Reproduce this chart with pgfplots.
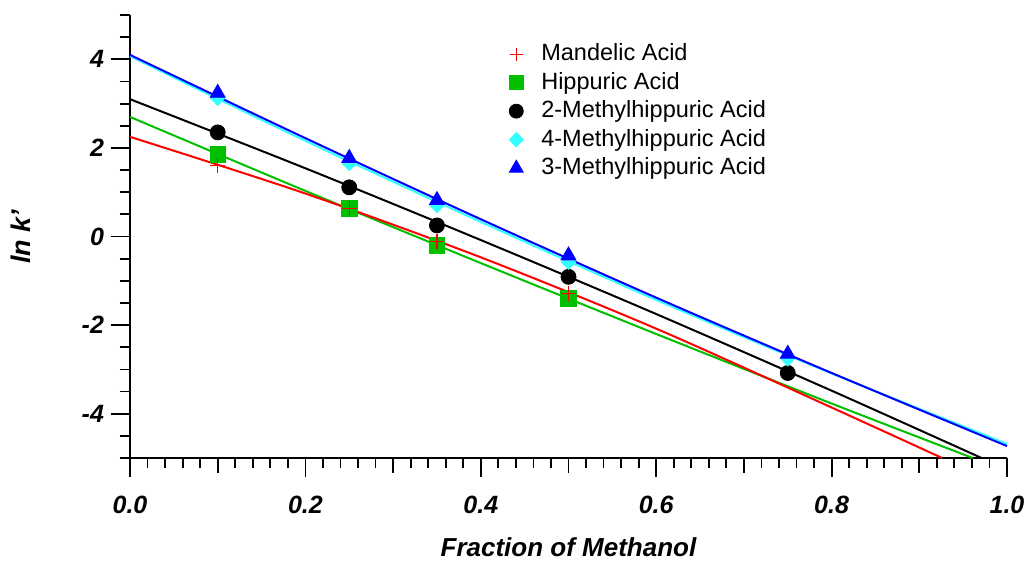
\documentclass[border=0pt]{standalone}
\usepackage{fontspec}
\setmainfont{Liberation Sans}
\usepackage{pgfplots}
\pgfplotsset{compat=1.18}

\definecolor{mred}{RGB}{255,0,0}
\definecolor{mgreen}{RGB}{0,192,0}
\definecolor{mcyan}{RGB}{51,255,255}
\definecolor{mblue}{RGB}{0,0,255}

\begin{document}
\begin{tikzpicture}
\useasboundingbox (-65pt,-52.5pt) rectangle (450.5pt,229pt);
\begin{axis}[
    at={(0,0)}, anchor=south west,
    scale only axis, width=438.5pt, height=221.5pt,
    xmin=0, xmax=1, ymin=-5, ymax=5,
    axis lines*=left,
    axis line style={line width=1pt},
    tick align=outside,
    every tick/.style={black, line width=0.9pt},
    major tick length=9.5pt, minor tick length=5pt,
    xtick={0,0.2,0.4,0.6,0.8,1.0},
    minor xtick={0.02,0.04,0.06,0.08,0.12,0.14,0.16,0.18,0.22,0.24,0.26,0.28,0.32,0.34,0.36,0.38,0.42,0.44,0.46,0.48,0.52,0.54,0.56,0.58,0.62,0.64,0.66,0.68,0.72,0.74,0.76,0.78,0.82,0.84,0.86,0.88,0.92,0.94,0.96,0.98},
    extra x ticks={0.1,0.3,0.5,0.7,0.9},
    extra x tick labels={},
    extra x tick style={major tick length=7.5pt},
    ytick={-4,-2,0,2,4},
    minor ytick={-5,-4.5,-3.5,-3,-2.5,-1.5,-1,-0.5,0.5,1,1.5,2.5,3,3.5,4.5,5},
    xticklabel style={/pgf/number format/fixed, /pgf/number format/fixed zerofill, /pgf/number format/precision=1, yshift=-6pt},
    /pgf/number format/assume math mode=true,
    ticklabel style={font=\fontsize{12.5}{15}\selectfont\bfseries\itshape},
    xlabel={Fraction of Methanol},
    ylabel={ln k'},
    xlabel style={at={(axis description cs:0.5,0)}, anchor=center, yshift=-44.5pt, font=\fontsize{13}{15}\selectfont\bfseries\itshape},
    ylabel style={at={(axis description cs:0,0.5)}, anchor=center, yshift=54.5pt, font=\fontsize{13.5}{15}\selectfont\bfseries\itshape},
    legend style={draw=none, fill=none, at={(axis cs:0.432,4.43)}, anchor=north west,
        font=\fontsize{11.75}{14}\selectfont, inner sep=0pt, row sep=0.75pt,
        nodes={inner sep=1pt, text height=9pt, text depth=2.5pt},
        /tikz/every odd column/.append style={column sep=8pt}},
    legend cell align=left,
    clip=false,
]
% legend entries
\addlegendimage{only marks, mark=+, mark size=3.3pt, mred, mark options={line width=0.6pt}}
\addlegendentry{Mandelic Acid}
\addlegendimage{only marks, mark=square*, mark size=3.5pt, mgreen}
\addlegendentry{Hippuric Acid}
\addlegendimage{only marks, mark=*, mark size=3.5pt, black}
\addlegendentry{2-Methylhippuric Acid}
\addlegendimage{only marks, mark=diamond*, mark size=3.6pt, mcyan, mark options={xscale=1.3}}
\addlegendentry{4-Methylhippuric Acid}
\addlegendimage{only marks, mark=triangle*, mark size=4pt, mblue}
\addlegendentry{3-Methylhippuric Acid}

% fitted curves
\addplot[mgreen, line width=1pt, smooth, forget plot] coordinates {
  (0,2.70) (0.2,1.03) (0.4,-0.60) (0.6,-2.20) (0.8,-3.77) (0.961,-5.0)};
\addplot[mred, line width=1pt, smooth, forget plot] coordinates {
  (0,2.25) (0.2,0.97) (0.4,-0.47) (0.6,-2.08) (0.8,-3.86) (0.926,-5.0)};
\addplot[black, line width=1pt, smooth, forget plot] coordinates {
  (0,3.10) (0.2,1.54) (0.4,-0.08) (0.6,-1.75) (0.8,-3.48) (0.971,-5.0)};
\addplot[mcyan, line width=1pt, smooth, forget plot] coordinates {
  (0,4.07) (0.2,2.16) (0.4,0.33) (0.6,-1.43) (0.8,-3.09) (1.0,-4.68)};
\addplot[mblue, line width=1pt, smooth, forget plot] coordinates {
  (0,4.10) (0.2,2.22) (0.4,0.39) (0.6,-1.38) (0.8,-3.08) (1.0,-4.73)};

% measured points
\addplot[only marks, mark=square*, mark size=3.9pt, mgreen, forget plot] coordinates {
  (0.1,1.86) (0.25,0.63) (0.35,-0.20) (0.5,-1.40)};
\addplot[only marks, mark=+, mark size=3.7pt, mred, mark options={line width=0.6pt}, forget plot] coordinates {
  (0.1,1.61) (0.25,0.63) (0.35,-0.12) (0.5,-1.29)};
\addplot[only marks, mark=*, mark size=3.75pt, black, forget plot] coordinates {
  (0.1,2.35) (0.25,1.11) (0.35,0.25) (0.5,-0.91) (0.75,-3.08)};
\addplot[only marks, mark=diamond*, mark size=3.6pt, mcyan, mark options={xscale=1.3}, forget plot] coordinates {
  (0.1,3.12) (0.25,1.65) (0.35,0.70) (0.5,-0.58) (0.75,-2.76)};
\addplot[only marks, mark=triangle*, mark size=4.3pt, mblue, forget plot] coordinates {
  (0.1,3.24) (0.25,1.77) (0.35,0.82) (0.5,-0.43) (0.75,-2.65)};
\end{axis}
\end{tikzpicture}
\end{document}
